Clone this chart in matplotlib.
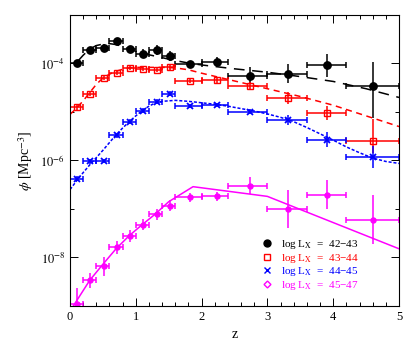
import numpy as np
import matplotlib
matplotlib.use("Agg")
import matplotlib.pyplot as plt
from matplotlib.ticker import FixedLocator, NullFormatter, MultipleLocator
from matplotlib.lines import Line2D

plt.rcParams['font.family'] = ['Liberation Serif', 'DejaVu Serif']
plt.rcParams['mathtext.fontset'] = 'stix'

# redshift bins (lower, upper) and point positions
z_pts = [0.1, 0.3, 0.51, 0.71, 0.91, 1.11, 1.32, 1.52, 1.82, 2.23, 2.73, 3.32, 3.91, 4.61]
z_lo = [0.0, 0.2, 0.4, 0.6, 0.8, 1.0, 1.2, 1.4, 1.6, 2.0, 2.4, 3.0, 3.6, 4.2]
z_hi = [0.2, 0.4, 0.6, 0.8, 1.0, 1.2, 1.4, 1.6, 2.0, 2.4, 3.0, 3.6, 4.2, 5.0]

# log10(phi) and errors (dex) for each luminosity class
lx42 = [-4.00, -3.73, -3.68, -3.53, -3.70, -3.80, -3.72, -3.84, -4.02, -3.97, -4.25, -4.21, -4.04, -4.47]
lx42_up = [0.07, 0.07, 0.08, 0.06, 0.07, 0.09, 0.10, 0.10, 0.08, 0.10, 0.18, 0.20, 0.23, 0.50]
lx42_dn = [0.07, 0.07, 0.08, 0.06, 0.07, 0.09, 0.10, 0.10, 0.08, 0.10, 0.18, 0.20, 0.23, 0.65]

lx43 = [-4.89, -4.62, -4.29, -4.19, -4.10, -4.11, -4.13, -4.08, -4.36, -4.35, -4.46, -4.71, -5.02, -5.60]
lx43_up = [0.06, 0.06, 0.05, 0.04, 0.04, 0.04, 0.04, 0.05, 0.05, 0.06, 0.08, 0.12, 0.15, 0.45]
lx43_dn = [0.06, 0.06, 0.05, 0.04, 0.04, 0.04, 0.04, 0.05, 0.05, 0.06, 0.08, 0.12, 0.15, 0.25]

lx44 = [-6.38, -6.02, -6.01, -5.48, -5.20, -4.97, -4.79, -4.62, -4.87, -4.85, -4.99, -5.16, -5.57, -5.93]
lx44_up = [0.05, 0.05, 0.05, 0.05, 0.05, 0.05, 0.05, 0.05, 0.04, 0.04, 0.05, 0.10, 0.15, 0.22]
lx44_dn = [0.05, 0.05, 0.05, 0.05, 0.05, 0.05, 0.05, 0.05, 0.04, 0.04, 0.05, 0.10, 0.15, 0.22]

lx45 = [-8.95, -8.47, -8.18, -7.79, -7.56, -7.32, -7.11, -6.93, -6.76, -6.74, -6.52, -7.00, -6.71, -7.22]
lx45_up = [0.33, 0.15, 0.20, 0.14, 0.12, 0.12, 0.12, 0.12, 0.10, 0.10, 0.17, 0.40, 0.30, 0.50]
lx45_dn = [0.30, 0.15, 0.20, 0.14, 0.12, 0.12, 0.12, 0.12, 0.10, 0.10, 0.17, 0.40, 0.30, 0.50]

# model curves
m42_z = [0.12, 0.2, 0.3, 0.4, 0.5, 0.6, 0.7, 0.8, 0.9, 1.0, 1.2, 1.4, 1.6, 1.8, 2.0, 2.5, 3.0, 3.5, 4.0, 4.5, 5.0]
m42 = [-3.95, -3.83, -3.70, -3.63, -3.60, -3.59, -3.61, -3.65, -3.70, -3.75, -3.82, -3.88, -3.94, -3.99, -4.03, -4.11, -4.18, -4.27, -4.37, -4.52, -4.70]

m43_z = [0.0, 0.1, 0.2, 0.3, 0.4, 0.5, 0.6, 0.7, 0.8, 0.9, 1.0, 1.2, 1.4, 1.6, 1.8, 2.0, 2.5, 3.0, 3.5, 4.0, 4.5, 5.0]
m43 = [-5.05, -4.92, -4.77, -4.60, -4.43, -4.30, -4.22, -4.16, -4.12, -4.09, -4.08, -4.08, -4.08, -4.09, -4.13, -4.20, -4.36, -4.52, -4.68, -4.86, -5.08, -5.30]

m44_z = [0.0, 0.1, 0.2, 0.3, 0.4, 0.5, 0.6, 0.7, 0.8, 0.9, 1.0, 1.1, 1.2, 1.3, 1.4, 1.5, 1.6, 1.8, 2.0, 2.2,
         2.4, 2.6, 2.8, 3.0, 3.2, 3.4, 3.6, 3.8, 4.0, 4.2, 4.4, 4.6, 4.8, 5.0]
m44 = [-6.60, -6.42, -6.25, -6.09, -5.94, -5.79, -5.63, -5.47, -5.33, -5.20, -5.08, -4.97, -4.88, -4.81, -4.78,
       -4.77, -4.76, -4.78, -4.81, -4.84, -4.88, -4.93, -4.98, -5.04, -5.11, -5.20, -5.32, -5.45, -5.58, -5.72,
       -5.84, -5.95, -6.02, -6.06]

m45_z = [0.05, 0.3, 0.5, 0.7, 0.9, 1.1, 1.3, 1.5, 1.87, 3.0, 5.0]
m45 = [-9.0, -8.47, -8.14, -7.82, -7.55, -7.32, -7.10, -6.85, -6.54, -6.74, -7.82]

labels = ['42\u221243', '43\u221244', '44\u221245', '45\u221247']
colors = ['black', 'red', 'blue', 'magenta']

fig = plt.figure(figsize=(4.15, 3.44), dpi=100)
ax = fig.add_axes([0.1687, 0.1105, 0.7927, 0.8459])

z = np.array(z_pts)
xerr = [z - np.array(z_lo), np.array(z_hi) - z]


def draw(lg, up, dn, color, marker, ms, mfc, mew):
    lg = np.array(lg)
    phi = 10 ** lg
    yerr = [phi - 10 ** (lg - np.array(dn)), 10 ** (lg + np.array(up)) - phi]
    ax.errorbar(z, phi, xerr=xerr, fmt='none', ecolor=color, elinewidth=1.1, capsize=2.5, capthick=1.1)
    ax.errorbar(z, phi, yerr=yerr, fmt='none', ecolor=color, elinewidth=1.1, capsize=0)
    ax.plot(z, phi, linestyle='none', marker=marker, ms=ms, mfc=mfc, mec=color, mew=mew, color=color)


draw(lx42, lx42_up, lx42_dn, 'black', 'o', 5.3, 'black', 1.0)
draw(lx43, lx43_up, lx43_dn, 'red', 's', 4.2, 'none', 1.0)
draw(lx44, lx44_up, lx44_dn, 'blue', 'x', 4.2, 'blue', 1.3)
draw(lx45, lx45_up, lx45_dn, 'magenta', 'o', 3.6, 'magenta', 1.0)

ax.plot(m42_z, 10 ** np.array(m42), color='black', lw=1.1, dashes=(7, 5))
ax.plot(m43_z, 10 ** np.array(m43), color='red', lw=1.1, dashes=(4, 3))
ax.plot(m44_z, 10 ** np.array(m44), color='blue', lw=1.1, dashes=(2, 1.2))
ax.plot(m45_z, 10 ** np.array(m45), color='magenta', lw=1.1)

ax.set_yscale('log')
ax.set_xlim(0, 5)
ax.set_ylim(1e-9, 1e-3)

ax.xaxis.set_major_locator(MultipleLocator(1))
ax.xaxis.set_minor_locator(MultipleLocator(0.2))
ax.yaxis.set_major_locator(FixedLocator([1e-8, 1e-6, 1e-4]))
ax.yaxis.set_minor_locator(FixedLocator([1e-9, 1e-7, 1e-5, 1e-3]))
ax.yaxis.set_minor_formatter(NullFormatter())
ax.set_yticklabels([r'$10^{-8}$', r'$10^{-6}$', r'$10^{-4}$'])
ax.tick_params(which='both', direction='in', top=True, right=True, labelsize=9, width=0.7)
ax.tick_params(which='major', length=6)
ax.tick_params(which='minor', length=3)
for s in ax.spines.values():
    s.set_linewidth(0.8)

ax.set_xlabel('z', fontsize=10)
ax.set_ylabel(r'$\phi$ [Mpc$^{-3}$]', fontsize=10)

handles = [
    Line2D([], [], ls='none', marker='o', ms=5, mfc='black', mec='black', color='black'),
    Line2D([], [], ls='none', marker='s', ms=4, mfc='none', mec='red', color='red'),
    Line2D([], [], ls='none', marker='x', ms=4, mec='blue', color='blue'),
    Line2D([], [], ls='none', marker='D', ms=3.5, mfc='none', mec='magenta', color='magenta'),
]
texts = ['log L$_{\\rm X}$  =  ' + lab for lab in labels]
leg = ax.legend(handles, texts, loc='upper left', bbox_to_anchor=(0.565, 0.252), frameon=False,
                fontsize=8, handlelength=1.0, handletextpad=0.8, labelspacing=0.05, borderpad=0)
for t, c in zip(leg.get_texts(), colors):
    t.set_color(c)

fig.savefig('out.png', dpi=100)
